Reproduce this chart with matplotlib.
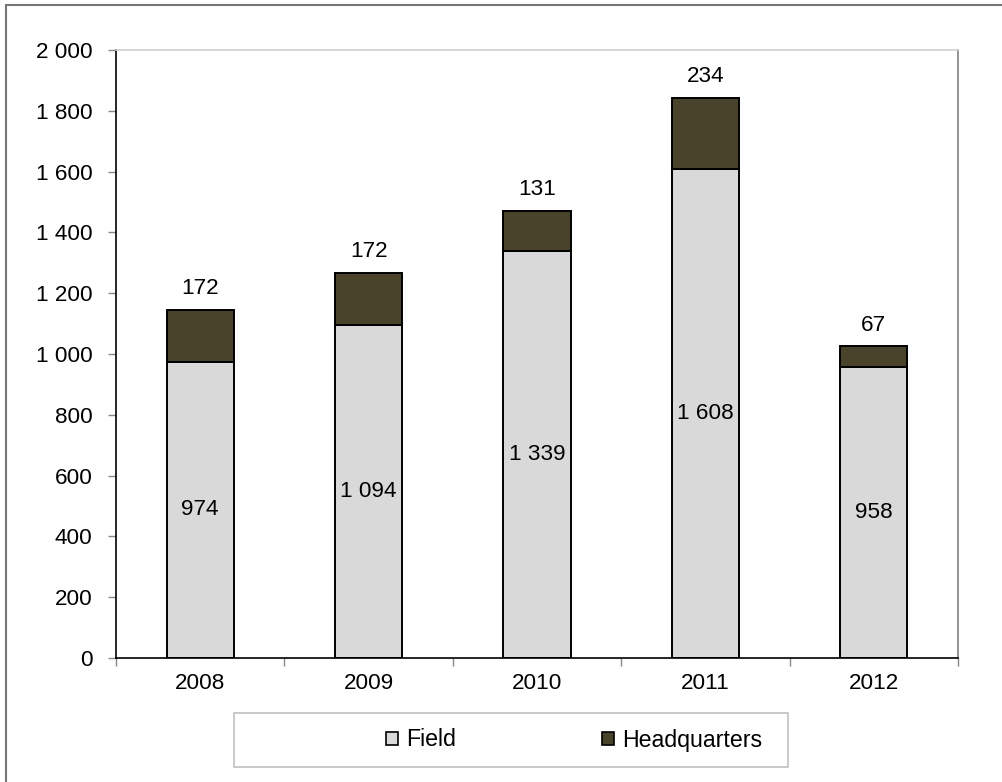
import matplotlib.pyplot as plt
import matplotlib.patches as mpatches
import numpy as np

years = ['2008', '2009', '2010', '2011', '2012']
field = [974, 1094, 1339, 1608, 958]
headquarters = [172, 172, 131, 234, 67]

field_color = '#d9d9d9'
hq_color = '#4a432c'

plt.rcParams['font.family'] = ['Liberation Sans', 'DejaVu Sans']
FS = 16.2


def fmt(v):
    # thousands separated by a space
    return f'{int(v):,}'.replace(',', ' ')


fig = plt.figure(figsize=(10.02, 7.82), dpi=100)
ax = fig.add_axes([116 / 1002, 1 - 658 / 782, (958 - 116) / 1002, (658 - 50) / 782])

x = np.arange(len(years))
w = 0.4
ax.bar(x, field, w, color=field_color, edgecolor='black', linewidth=1.4, label='Field', zorder=2)
ax.bar(x, headquarters, w, bottom=field, color=hq_color, edgecolor='black',
       linewidth=1.4, label='Headquarters', zorder=2)

# labels: field value in the middle of its segment, HQ value above the stack
for i in range(len(years)):
    ax.text(x[i], field[i] / 2, fmt(field[i]), ha='center', va='center', fontsize=FS)
    ax.text(x[i], field[i] + headquarters[i] + 35, fmt(headquarters[i]),
            ha='center', va='bottom', fontsize=FS)

ax.set_xlim(-0.5, len(years) - 0.5)
ax.set_ylim(0, 2000)
ax.set_yticks(np.arange(0, 2001, 200))
ax.set_yticklabels([fmt(v) for v in np.arange(0, 2001, 200)], fontsize=FS)
ax.set_xticks(x)
ax.set_xticklabels(years, fontsize=FS)
ax.tick_params(axis='x', length=0, pad=11)
ax.tick_params(axis='y', length=6, width=1, color='#888888', pad=11)

# category boundary ticks on the x axis
ax.set_xticks(np.arange(-0.5, len(years)), minor=True)
ax.tick_params(axis='x', which='minor', length=6, width=1, color='#888888')

ax.spines['left'].set_color('black')
ax.spines['bottom'].set_color('black')
ax.spines['top'].set_color('#d0d0d0')
ax.spines['right'].set_color('#808080')
for s in ax.spines.values():
    s.set_linewidth(1.2)

# legend box and entries
fig.add_artist(mpatches.Rectangle((234 / 1002, 1 - 767 / 782), (788 - 234) / 1002, 54 / 782,
                                  transform=fig.transFigure, fill=False,
                                  edgecolor='#c0c0c0', linewidth=1.2))
handles = [mpatches.Patch(facecolor=field_color, edgecolor='black', linewidth=1.2, label='Field'),
           mpatches.Patch(facecolor=hq_color, edgecolor='black', linewidth=1.2, label='Headquarters')]
fig.legend(handles=handles, loc='center', ncol=2,
           bbox_to_anchor=(574 / 1002, 1 - 740 / 782),
           fontsize=16.7, frameon=False,
           handlelength=0.5, handleheight=0.5, handletextpad=0.35,
           borderaxespad=0, borderpad=0, columnspacing=6.3)

# outer chart border
fig.add_artist(mpatches.Rectangle((6 / 1002, -0.01), 1.02, 1 - 5 / 782 + 0.01,
                                  transform=fig.transFigure, fill=False,
                                  edgecolor='#777777', linewidth=1.5))

fig.savefig('out.png', dpi=100)
